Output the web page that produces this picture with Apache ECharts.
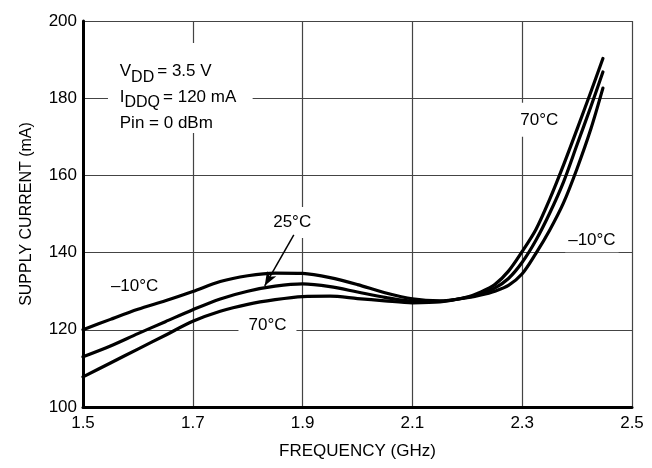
<!DOCTYPE html>
<html>
<head>
<meta charset="utf-8">
<script src="https://cdn.jsdelivr.net/npm/echarts@6/dist/echarts.min.js"></script>
<style>
  html, body { margin: 0; padding: 0; background: #fff; }
  #chart { width: 652px; height: 468px; }
</style>
</head>
<body>
<div id="chart"></div>
<script>
// Supply current vs. frequency at three case temperatures
const freqGHz        = [1.50, 1.55, 1.60, 1.65, 1.70, 1.75, 1.80, 1.85, 1.90, 1.95, 2.00, 2.05, 2.10, 2.15, 2.20, 2.225, 2.25, 2.275, 2.30, 2.325, 2.35, 2.375, 2.40, 2.425, 2.447];
const currentMinus10 = [120.0, 122.7, 125.3, 127.5, 129.9, 132.5, 134.0, 134.7, 134.6, 133.5, 131.7, 129.6, 128.0, 127.5, 128.3, 129.0, 130.0, 131.5, 134.5, 139.8, 145.8, 152.8, 161.8, 172.0, 182.6];
const current25      = [113.0, 115.8, 119.0, 122.1, 125.2, 128.0, 130.0, 131.3, 131.9, 131.2, 129.8, 128.4, 127.4, 127.4, 128.4, 129.3, 130.8, 133.3, 137.5, 143.2, 150.2, 158.2, 168.0, 177.8, 186.8];
const current70      = [107.8, 111.4, 115.0, 118.6, 122.2, 124.8, 126.6, 127.8, 128.6, 128.7, 128.1, 127.5, 127.0, 127.2, 128.5, 129.8, 131.7, 135.2, 140.3, 146.0, 153.8, 162.6, 172.0, 181.6, 190.3];

const xTicks = [1.5, 1.7, 1.9, 2.1, 2.3, 2.5];
const yTicks = [100, 120, 140, 160, 180, 200];

const FONT = '"Liberation Sans", Arial, Helvetica, sans-serif';

function pairs(values) {
  return freqGHz.map((f, i) => [f, values[i]]);
}

const chart = echarts.init(document.getElementById('chart'), null, { renderer: 'canvas' });

const curveStyle = { color: '#000', width: 3.2, cap: 'round', join: 'round' };

const option = {
  animation: false,
  backgroundColor: '#fff',
  grid: { left: 83, right: 20, top: 21, bottom: 61, containLabel: false },
  xAxis: {
    type: 'value',
    min: xTicks[0],
    max: xTicks[xTicks.length - 1],
    interval: 0.2,
    name: 'FREQUENCY (GHz)',
    nameLocation: 'middle',
    nameGap: 36,
    nameTextStyle: { fontFamily: FONT, fontSize: 17, color: '#000' },
    axisLine: { show: true, onZero: false, lineStyle: { color: '#000', width: 3 } },
    axisTick: { show: false },
    axisLabel: {
      fontFamily: FONT, fontSize: 17, color: '#000', margin: 8,
      formatter: v => v.toFixed(1)
    },
    splitLine: { show: true, lineStyle: { color: '#444', width: 1.2 } }
  },
  yAxis: {
    type: 'value',
    min: yTicks[0],
    max: yTicks[yTicks.length - 1],
    interval: 20,
    name: 'SUPPLY CURRENT (mA)',
    nameLocation: 'middle',
    nameGap: 48,
    nameTextStyle: { fontFamily: FONT, fontSize: 16, color: '#000' },
    axisLine: { show: true, onZero: false, lineStyle: { color: '#000', width: 3 } },
    axisTick: { show: false },
    axisLabel: { fontFamily: FONT, fontSize: 17, color: '#000', margin: 6 },
    splitLine: { show: true, lineStyle: { color: '#444', width: 1.2 } }
  },
  series: [
    {
      name: '-10°C', type: 'line', data: pairs(currentMinus10),
      showSymbol: false, smooth: 0.3, z: 3, lineStyle: curveStyle
    },
    {
      name: '25°C', type: 'line', data: pairs(current25),
      showSymbol: false, smooth: 0.3, z: 3, lineStyle: curveStyle,
      markLine: {
        silent: true,
        symbol: ['none', 'arrow'],
        symbolSize: [8, 14],
        label: { show: false },
        lineStyle: { color: '#000', width: 1.5, type: 'solid' },
        data: [[{ coord: [1.884, 144.6] }, { coord: [1.831, 131.4] }]]
      }
    },
    {
      name: '70°C', type: 'line', data: pairs(current70),
      showSymbol: false, smooth: 0.3, z: 3, lineStyle: curveStyle
    }
  ]
};

chart.setOption(option);

// Text annotations, placed in data units (GHz, mA)
const curveLabels = [
  { text: '25°C',  at: [1.881, 147.8], pad: [5, 3, 9, 3] },
  { text: '–10°C', at: [1.594, 131.2], pad: [3, 4, 3, 4] },
  { text: '70°C',  at: [1.836, 121.2], pad: [3, 10, 3, 10] },
  { text: '70°C',  at: [2.331, 174.4], pad: [12, 2, 5, 2] },
  { text: '–10°C', at: [2.427, 143.1], pad: [3, 3, 3, 3] }
];

// Bias conditions block: [main text, subscript, remainder]
const conditionLines = [
  { at: [1.567, 187.0], parts: ['V', 'DD', '= 3.5 V'] },
  { at: [1.567, 180.3], parts: ['I', 'DDQ', '= 120 mA'] },
  { at: [1.567, 173.4], parts: ['Pin = 0 dBm', '', ''] }
];
const conditionBox = { from: [1.5455, 194.3], to: [1.809, 171.0] };

const measureCtx = document.createElement('canvas').getContext('2d');
function textWidth(str, size) {
  measureCtx.font = size + 'px ' + FONT;
  return measureCtx.measureText(str).width;
}
function toPx(pt) {
  return chart.convertToPixel({ gridIndex: 0 }, pt);
}

const graphics = [];

const b0 = toPx(conditionBox.from);
const b1 = toPx(conditionBox.to);
graphics.push({
  type: 'rect', z: 1, silent: true,
  shape: { x: b0[0], y: b0[1], width: b1[0] - b0[0], height: b1[1] - b0[1] },
  style: { fill: '#fff' }
});

conditionLines.forEach(line => {
  const p = toPx(line.at);
  let x = p[0];
  const y = p[1];
  const [main, sub, rest] = line.parts;
  graphics.push({
    type: 'text', z: 2, silent: true, x: x, y: y,
    style: { text: main, font: '17px ' + FONT, fill: '#000', align: 'left', verticalAlign: 'middle' }
  });
  x += textWidth(main, 17);
  if (sub) {
    graphics.push({
      type: 'text', z: 2, silent: true, x: x, y: y + 6,
      style: { text: sub, font: '16px ' + FONT, fill: '#000', align: 'left', verticalAlign: 'middle' }
    });
    x += textWidth(sub, 16) + 3;
  }
  if (rest) {
    graphics.push({
      type: 'text', z: 2, silent: true, x: x, y: y,
      style: { text: rest, font: '17px ' + FONT, fill: '#000', align: 'left', verticalAlign: 'middle' }
    });
  }
});

curveLabels.forEach(lbl => {
  const p = toPx(lbl.at);
  graphics.push({
    type: 'text', z: 1, silent: true, x: p[0], y: p[1],
    style: {
      text: lbl.text, font: '17px ' + FONT, fill: '#000',
      align: 'center', verticalAlign: 'middle',
      backgroundColor: '#fff', padding: lbl.pad
    }
  });
});

chart.setOption({ graphic: graphics });
</script>
</body>
</html>
